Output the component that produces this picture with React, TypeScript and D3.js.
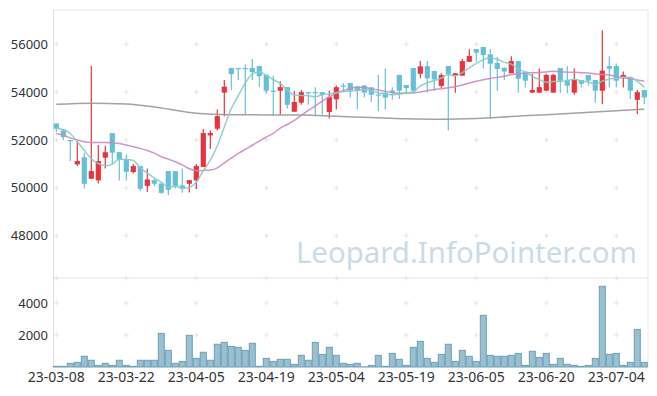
import React from 'react';
import * as d3 from 'd3';

const dates = [
  '23-03-08', '23-03-09', '23-03-10', '23-03-13', '23-03-14', '23-03-15', '23-03-16', '23-03-17', '23-03-20', '23-03-21',
  '23-03-22', '23-03-23', '23-03-24', '23-03-27', '23-03-28', '23-03-29', '23-03-30', '23-03-31', '23-04-03', '23-04-04',
  '23-04-05', '23-04-06', '23-04-07', '23-04-10', '23-04-11', '23-04-12', '23-04-13', '23-04-14', '23-04-17', '23-04-18',
  '23-04-19', '23-04-20', '23-04-21', '23-04-24', '23-04-25', '23-04-26', '23-04-27', '23-04-28', '23-05-02', '23-05-03',
  '23-05-04', '23-05-08', '23-05-09', '23-05-10', '23-05-11', '23-05-12', '23-05-15', '23-05-16', '23-05-17', '23-05-18',
  '23-05-19', '23-05-22', '23-05-23', '23-05-24', '23-05-25', '23-05-26', '23-05-30', '23-05-31', '23-06-01', '23-06-02',
  '23-06-05', '23-06-07', '23-06-08', '23-06-09', '23-06-12', '23-06-13', '23-06-14', '23-06-15', '23-06-16', '23-06-19',
  '23-06-20', '23-06-21', '23-06-22', '23-06-23', '23-06-26', '23-06-27', '23-06-28', '23-06-29', '23-06-30', '23-07-03',
  '23-07-04', '23-07-05', '23-07-06', '23-07-07', '23-07-10'
];

const opens = [
  52690, 52400, 52000, 50980, 51280, 50380, 50310, 51260, 52290, 51490,
  51200, 50660, 50910, 50080, 50320, 50180, 50700, 50700, 50100, 50170,
  50310, 50870, 52190, 52470, 53980, 55010, 55010, 55010, 55010, 55090,
  54720, 54060, 54060, 54210, 53180, 53560, 54000, 54000, 54000, 53170,
  53700, 54280, 54380, 54240, 54280, 54200, 53900, 53980, 54070, 54720,
  54300, 55010, 54770, 55090, 54880, 54260, 55090, 54690, 54690, 55270,
  55800, 55890, 55580, 55220, 55020, 54790, 55300, 54860, 53980, 53980,
  54060, 53980, 55010, 54510, 53980, 54510, 54720, 54510, 54060, 55090,
  55090, 54580, 54620, 53680, 54090
];
const highs = [
  52700, 52460, 52000, 51980, 51470, 55090, 51790, 51760, 52290, 51500,
  51400, 51000, 50910, 50810, 50390, 50180, 50700, 50700, 50810, 50330,
  51000, 52460, 52400, 53280, 54510, 55010, 55010, 55160, 55390, 55090,
  54720, 54690, 54460, 54210, 54050, 54090, 54000, 54200, 54000, 54060,
  54280, 54380, 54380, 54240, 54280, 54200, 54720, 54990, 54200, 54720,
  54300, 55010, 55300, 55300, 54880, 54790, 55090, 54790, 55390, 55790,
  55800, 55890, 55800, 55470, 55020, 55500, 55300, 54860, 54770, 54990,
  54770, 54770, 55010, 55080, 54990, 54510, 54720, 54510, 56590, 55500,
  55200, 54860, 54620, 54090, 54090
];
const lows = [
  52320, 52000, 51120, 50910, 49970, 50380, 50180, 50810, 50980, 50310,
  50310, 50600, 49860, 49830, 50080, 49750, 49690, 49970, 49790, 49800,
  49950, 50870, 51620, 52400, 52990, 54090, 54510, 53040, 54510, 54230,
  53950, 53000, 53070, 53320, 53180, 53470, 53470, 53010, 53070, 52900,
  53280, 54000, 53780, 53280, 53780, 53590, 53200, 53280, 53680, 53710,
  53980, 53980, 54580, 53990, 54060, 54160, 52400, 53980, 54690, 55270,
  55270, 54990, 52900, 54060, 54510, 54790, 53980, 54190, 53980, 53980,
  54060, 53980, 53980, 53950, 53890, 54190, 54270, 53570, 53490, 54190,
  54190, 54190, 53710, 53080, 53490
];
const closes = [
  52470, 52120, 51970, 51120, 50170, 50700, 51120, 51490, 51470, 51170,
  50670, 50910, 49960, 50350, 50170, 49790, 49920, 50080, 49970, 50320,
  50910, 52290, 52290, 53000, 54230, 54760, 54980, 54980, 54840, 54670,
  54060, 54040, 54210, 53470, 53590, 54000, 53980, 53980, 53890, 53800,
  54210, 54270, 54060, 54060, 53980, 53890, 53880, 53770, 53960, 54060,
  54170, 54060, 55080, 54580, 54530, 54720, 54760, 54790, 55300, 55510,
  55650, 55550, 55190, 54970, 54860, 55300, 54560, 54480, 54090, 54210,
  54720, 54720, 54480, 54270, 54510, 54350, 54480, 54060, 54900, 54980,
  54480, 54720, 54060, 54000, 53780
];
const volumes = [
  40, 40, 230, 290, 670, 420, 100, 230, 100, 420,
  100, 40, 420, 420, 420, 2100, 1040, 230, 350, 1980,
  540, 920, 420, 1420, 1540, 1290, 1230, 1040, 1480, 40,
  540, 350, 480, 480, 170, 730, 420, 1540, 790, 1230,
  730, 230, 170, 230, 10, 100, 730, 40, 850, 480,
  100, 1230, 1600, 540, 290, 790, 1420, 350, 1040, 670,
  350, 3230, 730, 670, 670, 730, 850, 100, 980, 600,
  850, 170, 540, 170, 100, 40, 100, 540, 5040, 790,
  850, 100, 290, 2350, 290
];

// averages before enough closes are on screen
const ma5Head = [52480, 52440, 52270, 51930];
const ma20Head = [
  52270, 52200, 52090, 52000, 51930, 51900, 51900, 51900, 51880, 51850,
  51790, 51720, 51650, 51560, 51450, 51300, 51200, 51090, 50960
];
const maLongIdx = [0, 5, 10, 15, 20, 25, 30, 35, 40, 45, 50, 55, 60, 65, 70, 75, 80, 84];
const maLongVals = [
  53490, 53540, 53510, 53340, 53120, 53060, 53050, 53040, 52990, 52940,
  52890, 52870, 52900, 52980, 53060, 53140, 53220, 53290
];

const priceTicks = [48000, 50000, 52000, 54000, 56000];
const volTicks = [2000, 4000];

const W = 657;
const H = 396;
const left = 53.5;
const right = 648;
const top = 10;
const split = 278;
const bottom = 367;

const UP = '#e8343c';
const DOWN = '#66bfd8';

function movingAvg(n: number, head: number[]) {
  return closes.map((c, i) => {
    if (i < n - 1) return head[i];
    return d3.mean(closes.slice(i - n + 1, i + 1)) as number;
  });
}

export default function App() {
  const x = d3.scaleBand().domain(dates).range([52.8, 647.8]);
  const bw = x.bandwidth();
  const cx = (i: number) => (x(dates[i]) as number) + bw / 2;
  const y = d3.scaleLinear().domain([46230, 57435]).range([split, top]);
  const yv = d3.scaleLinear().domain([0, 5560]).range([bottom, split]);

  const ma5 = movingAvg(5, ma5Head);
  const ma20 = movingAvg(20, ma20Head);

  const line = d3.line<[number, number]>()
    .x(d => d[0])
    .y(d => d[1])
    .curve(d3.curveMonotoneX);

  const ma5Path = line(ma5.map((v, i) => [cx(i), y(v)]));
  const ma20Path = line(ma20.map((v, i) => [cx(i), y(v)]));
  const longPath = line(maLongIdx.map((k, j) => [cx(k), y(maLongVals[j])]));

  const tickIdx = dates.map((_, i) => i).filter(i => i % 10 === 0);
  const gridYs = [...priceTicks.map(t => y(t)), split, ...volTicks.map(t => yv(t))];

  return (
    <svg width={W} height={H} style={{ position: 'fixed', left: 0, top: 0, background: '#fff' }}
      fontFamily="'Noto Sans', sans-serif">
      {/* frame */}
      <line x1={left} x2={right} y1={top} y2={top} stroke="#e6e6e6" />
      <line x1={left} x2={left} y1={top} y2={bottom} stroke="#e0e0e0" />
      <line x1={right} x2={right} y1={top} y2={bottom} stroke="#e6e6e6" />
      <line x1={left} x2={right} y1={split} y2={split} stroke="#e6e6e6" />

      {/* grid crosses */}
      {tickIdx.map(i => gridYs.map((gy, k) => (
        <g key={i + '-' + k} stroke="#e4e4e4" strokeWidth={1}>
          <line x1={cx(i) - 2.5} x2={cx(i) + 2.5} y1={gy} y2={gy} />
          <line x1={cx(i)} x2={cx(i)} y1={gy - 2.5} y2={gy + 2.5} />
        </g>
      )))}

      {/* watermark */}
      <text x={637} y={263} textAnchor="end" fontSize={29.4} fill="#c9dbe7">Leopard.InfoPointer.com</text>

      {/* y labels */}
      {priceTicks.map(t => (
        <text key={t} x={48} y={y(t)} dy="0.35em" textAnchor="end" fontSize={13} fill="#333">{t}</text>
      ))}
      {volTicks.map(t => (
        <text key={t} x={48} y={yv(t)} dy="0.35em" textAnchor="end" fontSize={13} fill="#333">{t}</text>
      ))}

      {/* x labels */}
      {tickIdx.map(i => (
        <text key={i} x={cx(i)} y={382} textAnchor="middle" fontSize={14} fill="#333">{dates[i]}</text>
      ))}

      {/* candles */}
      {dates.map((d, i) => {
        const o = opens[i], c = closes[i];
        const col = c >= o ? UP : DOWN;
        const yt = y(Math.max(o, c));
        const yb = y(Math.min(o, c));
        return (
          <g key={d}>
            <line x1={cx(i)} x2={cx(i)} y1={y(highs[i])} y2={y(lows[i])} stroke={col} strokeWidth={1.2} />
            <rect x={cx(i) - 2.6} y={yt} width={5.2} height={Math.max(1.2, yb - yt)} fill={col} />
          </g>
        );
      })}

      {/* moving averages */}
      <path d={longPath || ''} fill="none" stroke="#999" strokeWidth={1.5} opacity={0.9} />
      <path d={ma20Path || ''} fill="none" stroke="#cc8ac4" strokeWidth={1.5} opacity={0.9} />
      <path d={ma5Path || ''} fill="none" stroke="#86ccc2" strokeWidth={1.5} opacity={0.9} />

      {/* volume */}
      {volumes.map((v, i) => (
        <rect key={i} x={(x(dates[i]) as number) + 0.5} y={yv(v)} width={bw - 1}
          height={Math.max(0, yv(0) - yv(v))} fill="#98c0d1" stroke="#6d9fb6" strokeWidth={1} />
      ))}
    </svg>
  );
}
